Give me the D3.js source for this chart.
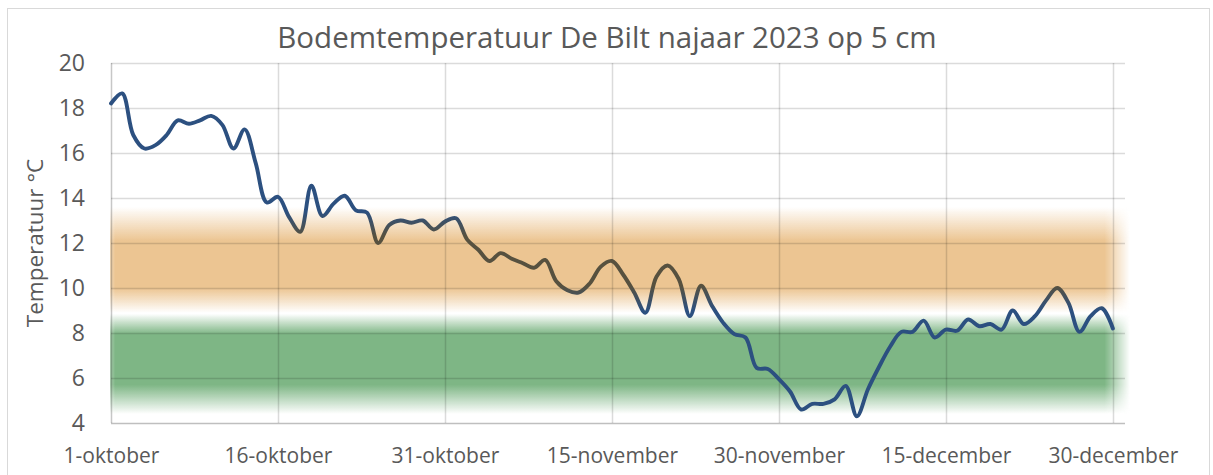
<!DOCTYPE html>
<html>
<head>
<meta charset="utf-8">
<script src="https://cdn.jsdelivr.net/npm/d3@7"></script>
<style>
  body { margin: 0; background: #fff; }
  text { font-family: "Open Sans", sans-serif; fill: #595959; }
</style>
</head>
<body>
<div id="chart"></div>
<script>

var title = "Bodemtemperatuur De Bilt najaar 2023 op 5 cm";
var yTitle = "Temperatuur °C";

var startDate = new Date(2023, 9, 1);
var endDate = new Date(2023, 11, 31);

// daily soil temperature at 5 cm, 1 oct .. 30 dec
var temps = [
  18.2, 18.65, 16.8, 16.2, 16.35, 16.8, 17.45, 17.3, 17.45, 17.65,
  17.25, 16.2, 17.05, 15.55, 13.8, 14.05, 13.15, 12.5, 14.55, 13.2,
  13.75, 14.1, 13.45, 13.35, 12.0, 12.8, 13.0, 12.9, 13.0, 12.6,
  12.95, 13.1, 12.15, 11.7, 11.2, 11.55, 11.3, 11.1, 10.9, 11.25,
  10.3, 9.9, 9.8, 10.2, 10.95, 11.2, 10.6, 9.8, 8.9, 10.5,
  11.0, 10.4, 8.75, 10.1, 9.2, 8.45, 7.95, 7.8, 6.45, 6.4,
  5.95, 5.4, 4.6, 4.85, 4.85, 5.05, 5.65, 4.3, 5.5, 6.5,
  7.4, 8.05, 8.05, 8.55, 7.8, 8.15, 8.1, 8.6, 8.3, 8.4,
  8.15, 9.0, 8.4, 8.75, 9.45, 10.0, 9.35, 8.05, 8.75, 9.1,
  8.2
];

var tickDays = [0, 15, 30, 45, 60, 75, 90];
var tickLabels = ["1-oktober", "16-oktober", "31-oktober", "15-november",
                  "30-november", "15-december", "30-december"];
var yTicks = [4, 6, 8, 10, 12, 14, 16, 18, 20];

// optimum bands (approx. 10-12 and 6-8 degrees), soft edges
var warmBand = [13.6, 12.1, 10.0, 8.9];
var coolBand = [8.85, 7.95, 5.7, 4.4];

var width = 1213, height = 475;
var margin = {top: 63, right: 89, bottom: 52, left: 111};

var svg = d3.select("#chart").append("svg")
    .attr("width", width)
    .attr("height", height);

var defs = svg.append("defs");

var x = d3.scaleTime().domain([startDate, endDate]).range([margin.left, width - margin.right]),
    y = d3.scaleLinear().domain([4, 20]).range([height - margin.bottom, margin.top]);

var data = temps.map(function(t, i) {
    return {date: d3.timeDay.offset(startDate, i), temp: t};
});

// outer chart border
svg.append("rect")
    .attr("x", 7.5).attr("y", 8.5)
    .attr("width", 1202).attr("height", 490)
    .attr("fill", "none")
    .attr("stroke", "#d9d9d9");

// band gradients
function bandGradient(id, color, stops) {
    var g = defs.append("linearGradient")
        .attr("id", id)
        .attr("gradientUnits", "userSpaceOnUse")
        .attr("x1", 0).attr("x2", 0)
        .attr("y1", y(stops[0])).attr("y2", y(stops[3]));
    var span = y(stops[3]) - y(stops[0]);
    [0, 1, 1, 0].forEach(function(op, i) {
        g.append("stop")
            .attr("offset", (y(stops[i]) - y(stops[0])) / span)
            .attr("stop-color", color)
            .attr("stop-opacity", op);
    });
}
bandGradient("warm", "#ecc592", warmBand);
bandGradient("cool", "#7eb685", coolBand);

var fade = defs.append("linearGradient")
    .attr("id", "hfade")
    .attr("gradientUnits", "userSpaceOnUse")
    .attr("x1", 110).attr("x2", 1130).attr("y1", 0).attr("y2", 0);
[[0, 0.6], [0.005, 1], [0.975, 1], [1, 0]].forEach(function(s) {
    fade.append("stop").attr("offset", s[0]).attr("stop-color", "#fff").attr("stop-opacity", s[1]);
});
defs.append("mask").attr("id", "bandmask")
    .append("rect")
    .attr("x", 110).attr("y", 0).attr("width", 1020).attr("height", height)
    .attr("fill", "url(#hfade)");

var bands = svg.append("g").attr("mask", "url(#bandmask)");
bands.append("rect")
    .attr("x", 110).attr("width", 1020)
    .attr("y", y(warmBand[0])).attr("height", y(warmBand[3]) - y(warmBand[0]))
    .attr("fill", "url(#warm)");
bands.append("rect")
    .attr("x", 110).attr("width", 1020)
    .attr("y", y(coolBand[0])).attr("height", y(coolBand[3]) - y(coolBand[0]))
    .attr("fill", "url(#cool)");

// grid
var grid = svg.append("g");
grid.selectAll(".hgrid")
    .data(yTicks)
    .enter().append("line")
    .attr("class", "hgrid")
    .attr("x1", margin.left).attr("x2", width - margin.right + 1)
    .attr("y1", function(d) { return Math.round(y(d)) + 0.5; })
    .attr("y2", function(d) { return Math.round(y(d)) + 0.5; })
    .attr("stroke", "#000")
    .attr("stroke-opacity", function(d) { return d === 4 ? 0.25 : 0.14; })
    .attr("stroke-width", 1.5);

grid.selectAll(".vgrid")
    .data(tickDays)
    .enter().append("line")
    .attr("class", "vgrid")
    .attr("x1", function(d) { return Math.round(x(d3.timeDay.offset(startDate, d))) + 0.5; })
    .attr("x2", function(d) { return Math.round(x(d3.timeDay.offset(startDate, d))) + 0.5; })
    .attr("y1", y(20)).attr("y2", y(4))
    .attr("stroke", "#000")
    .attr("stroke-opacity", function(d) { return d === 0 ? 0.22 : 0.14; })
    .attr("stroke-width", 1.5);

// line colour shifts where it runs through the warm band
var lg = defs.append("linearGradient")
    .attr("id", "linegrad")
    .attr("gradientUnits", "userSpaceOnUse")
    .attr("x1", 0).attr("x2", 0)
    .attr("y1", y(20)).attr("y2", y(4));
var blue = "#2c5080", dark = "#57513f";
[[20, blue], [13.4, blue], [12.3, dark], [10.1, dark], [9.0, blue], [4, blue]].forEach(function(s) {
    lg.append("stop")
        .attr("offset", (y(s[0]) - y(20)) / (y(4) - y(20)))
        .attr("stop-color", s[1]);
});

var line = d3.line()
    .x(function(d) { return x(d.date); })
    .y(function(d) { return y(d.temp); })
    .curve(d3.curveCatmullRom);

svg.append("path")
    .datum(data)
    .attr("d", line)
    .attr("fill", "none")
    .attr("stroke", "url(#linegrad)")
    .attr("stroke-width", 3.9)
    .attr("stroke-linejoin", "round")
    .attr("stroke-linecap", "round");

// axes
var xAxis = d3.axisBottom(x)
    .tickValues(tickDays.map(function(d) { return d3.timeDay.offset(startDate, d); }))
    .tickFormat(function(d, i) { return tickLabels[i]; })
    .tickSize(0).tickPadding(19);

var yAxis = d3.axisLeft(y)
    .tickValues(yTicks)
    .tickSize(0).tickPadding(26);

svg.append("g")
    .attr("class", "axis axis--x")
    .attr("transform", "translate(0," + y(4) + ")")
    .call(xAxis)
    .call(function(g) { g.select(".domain").remove(); })
    .selectAll("text")
    .style("font-size", "21px")
    .style("fill", "#595959")
    .attr("dy", "1em");

svg.append("g")
    .attr("class", "axis axis--y")
    .attr("transform", "translate(" + margin.left + ",0)")
    .call(yAxis)
    .call(function(g) { g.select(".domain").remove(); })
    .selectAll("text")
    .style("font-size", "23px")
    .style("fill", "#595959");

svg.append("text")
    .attr("x", 607)
    .attr("y", 48)
    .attr("text-anchor", "middle")
    .style("font-size", "29.5px")
    .text(title);

svg.append("text")
    .attr("transform", "translate(43," + (y(12)) + ") rotate(-90)")
    .attr("text-anchor", "middle")
    .style("font-size", "22.5px")
    .text(yTitle);

</script>
</body>
</html>
